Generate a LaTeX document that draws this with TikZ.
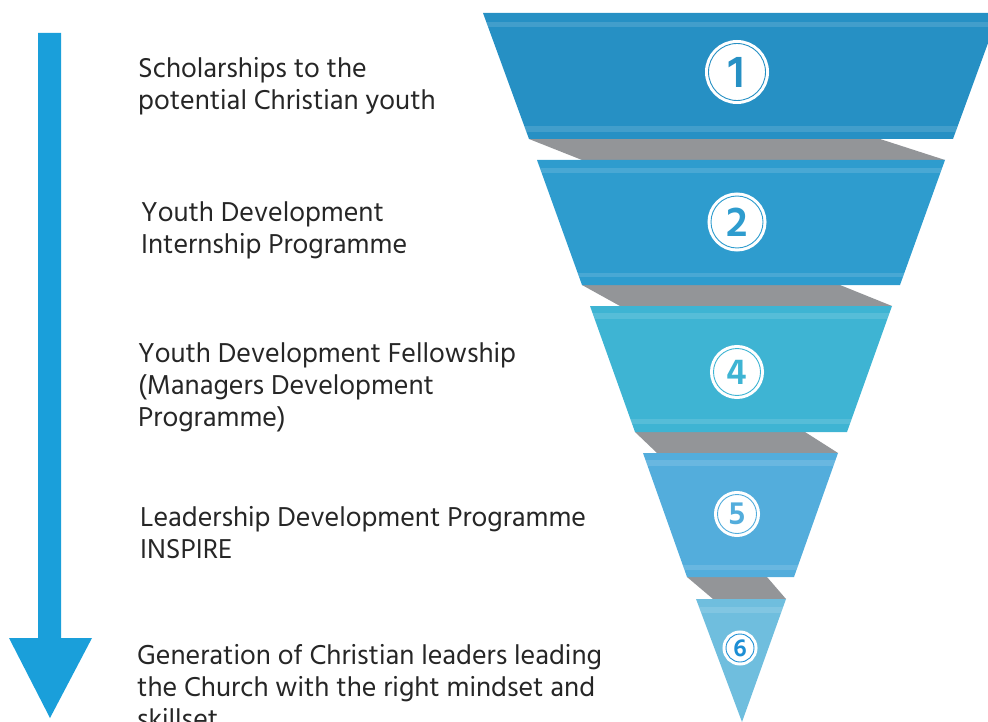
\documentclass[tikz,border=0pt]{standalone}
\usepackage{fontspec}
\setmainfont{Hind Madurai}
\definecolor{arrowblue}{HTML}{1A9FDA}
\definecolor{layA}{HTML}{2690C4}
\definecolor{layB}{HTML}{2E9CCE}
\definecolor{layC}{HTML}{3EB4D3}
\definecolor{layD}{HTML}{53ADDC}
\definecolor{layE}{HTML}{6FBEDE}
\definecolor{sixblue}{HTML}{1C8ED4}
\definecolor{backgray}{HTML}{939598}
\definecolor{txt}{HTML}{262626}

\begin{document}
\begin{tikzpicture}[x=1pt,y=-1pt,
  back/.style={fill=backgray},
  stripe/.style={fill=white,fill opacity=.13},
  badge/.style={circle,inner sep=0pt,fill=white,draw=#1,line width=.9pt,
    text=#1,font=\bfseries,preaction={draw=white,line width=7pt}},
  desc/.style={anchor=west,align=left,text=txt,inner xsep=0pt,
    font=\fontsize{28}{32}\selectfont}]
  \useasboundingbox (0,0) rectangle (988,722);
  \clip (0,0) rectangle (988,722);
  % direction arrow
  \fill[arrowblue] (38,33) -- (61,33) -- (61,638) -- (92,638) -- (50,718)
    -- (9,638) -- (38,638) -- cycle;
  % grey backs between the bands
  \fill[back] (529,139) -- (880,139) -- (945,160) -- (582,160) -- cycle;
  \fill[back] (582,285) -- (840,285) -- (892,306) -- (620,306) -- cycle;
  \fill[back] (635,432) -- (805,432) -- (838,453) -- (657,453) -- cycle;
  \fill[back] (687,577) -- (767,577) -- (786,599) -- (713,599) -- cycle;
  % funnel bands
  \begin{scope}
    \fill[layA] (483,13) -- (999,13) -- (953,139) -- (529,139) -- cycle;
    \clip (483,13) -- (999,13) -- (953,139) -- (529,139) -- cycle;
    \fill[stripe] (480,22) rectangle (1000,27);
    \fill[stripe] (480,126) rectangle (1000,132);
  \end{scope}
  \begin{scope}
    \fill[layB] (537,160) -- (945,160) -- (900,285) -- (582,285) -- cycle;
    \clip (537,160) -- (945,160) -- (900,285) -- (582,285) -- cycle;
    \fill[stripe] (530,168) rectangle (950,173);
    \fill[stripe] (530,273) rectangle (950,277);
  \end{scope}
  \begin{scope}
    \fill[layC] (590,306) -- (892,306) -- (847,432) -- (635,432) -- cycle;
    \clip (590,306) -- (892,306) -- (847,432) -- (635,432) -- cycle;
    \fill[stripe] (580,313) rectangle (900,319);
    \fill[stripe] (580,419) rectangle (900,424);
  \end{scope}
  \begin{scope}
    \fill[layD] (643,453) -- (838,453) -- (794,577) -- (687,577) -- cycle;
    \clip (643,453) -- (838,453) -- (794,577) -- (687,577) -- cycle;
    \fill[stripe] (640,460) rectangle (840,466);
    \fill[stripe] (640,565) rectangle (840,570);
  \end{scope}
  \begin{scope}
    \fill[layE] (696,599) -- (786,599) -- (742,722) -- cycle;
    \clip (696,599) -- (786,599) -- (742,722) -- cycle;
    \fill[stripe] (690,607) rectangle (790,613);
  \end{scope}
  % numbers
  \node[badge=layA,minimum size=57pt,font=\bfseries\fontsize{46}{46}\selectfont]
    (n1) at (737,72) {1};
  \node[badge=layB,minimum size=52pt,font=\bfseries\fontsize{43}{43}\selectfont]
    (n2) at (737,222) {2};
  \node[badge=layC,minimum size=47pt,font=\bfseries\fontsize{37}{37}\selectfont]
    (n4) at (737,372) {4};
  \node[badge=layD,minimum size=39pt,font=\bfseries\fontsize{33}{33}\selectfont]
    (n5) at (737,514) {5};
  \node[badge=sixblue,minimum size=28pt,font=\bfseries\fontsize{25}{25}\selectfont]
    (n6) at (740,648) {6};
  % texts
  \node[desc] (t1) at (138,86) {Scholarships to the\\potential Christian youth};
  \node[desc] (t2) at (141,230) {Youth Development\\Internship Programme};
  \node[desc] (t3) at (138,387) {Youth Development Fellowship\\(Managers Development\\Programme)};
  \node[desc] (t4) at (140,533) {Leadership Development Programme\\INSPIRE};
  \node[desc] (t5) at (137,687) {Generation of Christian leaders leading\\the Church with the right mindset and\\skillset};
\end{tikzpicture}
\end{document}
